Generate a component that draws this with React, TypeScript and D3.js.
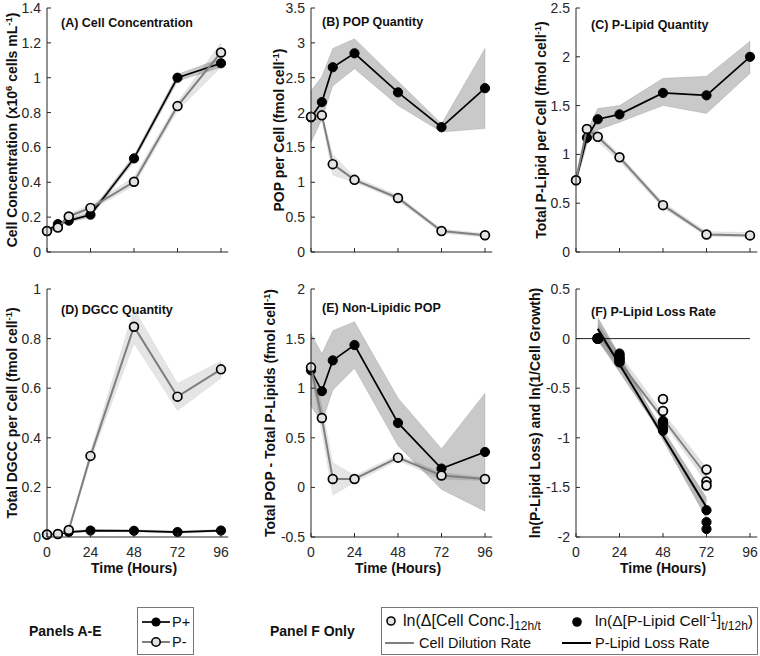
import React from 'react';
import * as d3 from 'd3';

const FONT = "'Liberation Sans', Arial, Helvetica, sans-serif";
const AXIS = '#262626';

const TIMES = [0, 6, 12, 24, 48, 72, 96];
const X_TICKS = [0, 24, 48, 72, 96];

// (A) Cell Concentration
const A_YTICKS = [0, 0.2, 0.4, 0.6, 0.8, 1, 1.2, 1.4];
const A_PP = [0.12, 0.16, 0.18, 0.214, 0.537, 1.0, 1.083];
const A_PP_LO = [0.11, 0.15, 0.17, 0.2, 0.52, 0.98, 1.06];
const A_PP_HI = [0.13, 0.17, 0.19, 0.23, 0.555, 1.02, 1.11];
const A_PM = [0.12, 0.14, 0.204, 0.253, 0.403, 0.837, 1.145];
const A_PM_LO = [0.11, 0.13, 0.19, 0.24, 0.38, 0.81, 1.06];
const A_PM_HI = [0.13, 0.15, 0.22, 0.27, 0.43, 0.86, 1.2];

// (B) POP Quantity
const B_YTICKS = [0, 0.5, 1, 1.5, 2, 2.5, 3, 3.5];
const B_PP = [1.93, 2.15, 2.65, 2.85, 2.29, 1.79, 2.35];
const B_PP_LO = [1.57, 1.9, 2.38, 2.63, 2.1, 1.72, 1.77];
const B_PP_HI = [2.31, 2.52, 2.92, 3.06, 2.45, 1.84, 2.92];
const B_PM = [1.94, 1.96, 1.26, 1.035, 0.775, 0.3, 0.24];
const B_PM_LO = [1.9, 1.9, 1.1, 1.0, 0.74, 0.27, 0.21];
const B_PM_HI = [1.98, 2.0, 1.4, 1.08, 0.81, 0.33, 0.27];

// (C) P-Lipid Quantity
const C_YTICKS = [0, 0.5, 1, 1.5, 2, 2.5];
const C_PP = [0.735, 1.17, 1.36, 1.41, 1.63, 1.605, 2.0];
const C_PP_LO = [0.7, 1.1, 1.25, 1.33, 1.5, 1.42, 1.83];
const C_PP_HI = [0.77, 1.24, 1.47, 1.5, 1.78, 1.8, 2.16];
const C_PM = [0.735, 1.26, 1.18, 0.97, 0.48, 0.18, 0.17];
const C_PM_LO = [0.7, 1.2, 1.13, 0.93, 0.45, 0.16, 0.15];
const C_PM_HI = [0.77, 1.3, 1.22, 1.0, 0.51, 0.21, 0.2];

// (D) DGCC Quantity
const D_YTICKS = [0, 0.2, 0.4, 0.6, 0.8, 1];
const D_PP = [0.01, 0.012, 0.02, 0.026, 0.025, 0.02, 0.026];
const D_PP_LO = [0.007, 0.009, 0.016, 0.022, 0.021, 0.016, 0.022];
const D_PP_HI = [0.013, 0.015, 0.024, 0.03, 0.029, 0.024, 0.03];
const D_PM = [0.01, 0.012, 0.028, 0.327, 0.848, 0.566, 0.676];
const D_PM_LO = [0.008, 0.01, 0.02, 0.31, 0.78, 0.51, 0.64];
const D_PM_HI = [0.012, 0.014, 0.035, 0.345, 0.92, 0.62, 0.71];

// (E) Non-Lipidic POP
const E_YTICKS = [-0.5, 0, 0.5, 1, 1.5, 2];
const E_PP = [1.18, 0.97, 1.28, 1.435, 0.65, 0.19, 0.357];
const E_PP_LO = [0.82, 0.65, 0.98, 1.2, 0.42, -0.02, -0.24];
const E_PP_HI = [1.55, 1.35, 1.58, 1.67, 0.9, 0.39, 0.95];
const E_PM = [1.21, 0.7, 0.085, 0.085, 0.3, 0.12, 0.085];
const E_PM_LO = [1.15, 0.55, -0.08, 0.05, 0.27, 0.08, 0.07];
const E_PM_HI = [1.27, 0.82, 0.25, 0.12, 0.33, 0.15, 0.1];

// (F) P-Lipid Loss Rate
const F_YTICKS = [-2, -1.5, -1, -0.5, 0, 0.5];
const F_T = [12, 24, 48, 72];
const F_OPEN = [[0, 0, 0], [-0.17, -0.2, -0.23], [-0.61, -0.73, -0.85], [-1.32, -1.44, -1.48]];
const F_FILLED = [[0, 0, 0], [-0.15, -0.2, -0.24], [-0.83, -0.9, -0.93], [-1.73, -1.85, -1.92]];
const F_LINE_T = [12, 72];
const F_DIL = [0.05, -1.38];
const F_LOSS = [0.1, -1.7];
const F_BAND_T = [12, 42, 72];
const F_DIL_LO = [-0.03, -0.69, -1.46];
const F_DIL_HI = [0.15, -0.6, -1.3];
const F_LOSS_LO = [-0.02, -0.83, -1.82];
const F_LOSS_HI = [0.22, -0.74, -1.6];

type Seg = { t: string; sup?: boolean; sub?: boolean };

const fmt = (v: number) => String(Math.round(v * 10) / 10);

const ROW_TOP = [8, 289];
const ROW_BOT = [252, 537];
const COL_X = [47, 311, 576];
const X_DOMAIN: [number, number] = [0, 100];
const X_RANGE_W = 181.25;

function RichText({ segs, small = 9.5, shift = 5 }: { segs: Seg[]; small?: number; shift?: number }) {
  let cur = 0;
  const out: React.ReactNode[] = [];
  segs.forEach((s, i) => {
    const target = s.sup ? -shift : s.sub ? shift - 1 : 0;
    const dy = target - cur;
    cur = target;
    out.push(
      <tspan key={i} dy={dy} fontSize={s.sup || s.sub ? small : undefined}>
        {s.t}
      </tspan>
    );
  });
  return <>{out}</>;
}

type PanelProps = {
  col: number;
  row: number;
  yDomain: [number, number];
  yTicks: number[];
  title: string;
  titleDx: number;
  titleY: number;
  ylabel: Seg[];
  ylabelOff: number;
  children: (x: d3.ScaleLinear<number, number>, y: d3.ScaleLinear<number, number>) => React.ReactNode;
};

function Panel({ col, row, yDomain, yTicks, title, titleDx, titleY, ylabel, ylabelOff, children }: PanelProps) {
  const x0 = COL_X[col];
  const top = ROW_TOP[row];
  const bot = ROW_BOT[row];
  const x = d3.scaleLinear().domain(X_DOMAIN).range([x0, x0 + X_RANGE_W]);
  const y = d3.scaleLinear().domain(yDomain).range([bot, top]);
  const tick = 4;
  const showX = row === 1;
  return (
    <g>
      {children(x, y)}
      <line x1={x0} x2={x0} y1={top} y2={bot} stroke={AXIS} strokeWidth={1} />
      <line x1={x0} x2={x0 + X_RANGE_W} y1={bot} y2={bot} stroke={AXIS} strokeWidth={1} />
      {X_TICKS.map((t) => (
        <g key={'xt' + t}>
          <line x1={x(t)} x2={x(t)} y1={bot} y2={bot - tick} stroke={AXIS} strokeWidth={1} />
          {showX && (
            <text x={x(t)} y={bot + 20} textAnchor="middle" fontSize={14} fill={AXIS} fontFamily={FONT}>
              {t}
            </text>
          )}
        </g>
      ))}
      {yTicks.map((v) => (
        <g key={'yt' + v}>
          <line x1={x0} x2={x0 + tick} y1={y(v)} y2={y(v)} stroke={AXIS} strokeWidth={1} />
          <text x={x0 - 6} y={y(v) + 5} textAnchor="end" fontSize={14} fill={AXIS} fontFamily={FONT}>
            {fmt(v)}
          </text>
        </g>
      ))}
      {showX && (
        <text x={x(48)} y={bot + 36} textAnchor="middle" fontSize={14} fontWeight="bold" fill="#111" fontFamily={FONT}>
          Time (Hours)
        </text>
      )}
      <text
        transform={`translate(${x0 - ylabelOff},${(top + bot) / 2}) rotate(-90)`}
        textAnchor="middle"
        fontSize={14}
        fontWeight="bold"
        fill="#111"
        fontFamily={FONT}
      >
        <RichText segs={ylabel} />
      </text>
      <text x={x0 + titleDx} y={titleY} fontSize={12.5} fontWeight="bold" fill="#111" fontFamily={FONT}>
        {title}
      </text>
    </g>
  );
}

const BAND_PP = 'rgba(0,0,0,0.21)';
const BAND_PM = 'rgba(0,0,0,0.10)';
const LINE_PM = '#7f7f7f';
const MARK_PM = '#e3e3e3';

function Series(
  x: d3.ScaleLinear<number, number>,
  y: d3.ScaleLinear<number, number>,
  pp: number[], ppLo: number[], ppHi: number[],
  pm: number[], pmLo: number[], pmHi: number[]
) {
  const area = (lo: number[], hi: number[]) =>
    d3
      .area<number>()
      .x((_, i) => x(TIMES[i]))
      .y0((_, i) => y(lo[i]))
      .y1((_, i) => y(hi[i]))(TIMES) || '';
  const line = (vals: number[]) =>
    d3
      .line<number>()
      .x((_, i) => x(TIMES[i]))
      .y((v) => y(v))(vals) || '';
  return (
    <g>
      <path d={area(ppLo, ppHi)} fill={BAND_PP} stroke="rgba(0,0,0,0.14)" strokeWidth={0.8} />
      <path d={area(pmLo, pmHi)} fill={BAND_PM} stroke="rgba(0,0,0,0.06)" strokeWidth={0.8} />
      <path d={line(pp)} fill="none" stroke="#000" strokeWidth={1.7} />
      {pp.map((v, i) => (
        <circle key={'pp' + i} cx={x(TIMES[i])} cy={y(v)} r={4.6} fill="#000" stroke="#000" strokeWidth={1} />
      ))}
      <path d={line(pm)} fill="none" stroke={LINE_PM} strokeWidth={2} />
      {pm.map((v, i) => (
        <circle key={'pm' + i} cx={x(TIMES[i])} cy={y(v)} r={4.4} fill={MARK_PM} stroke="#000" strokeWidth={1.7} />
      ))}
    </g>
  );
}

function PanelF(x: d3.ScaleLinear<number, number>, y: d3.ScaleLinear<number, number>) {
  const band = (lo: number[], hi: number[]) =>
    d3
      .area<number>()
      .x((t) => x(t))
      .y0((_, i) => y(lo[i]))
      .y1((_, i) => y(hi[i]))(F_BAND_T) || '';
  const line = (vals: number[]) =>
    d3
      .line<number>()
      .x((_, i) => x(F_LINE_T[i]))
      .y((v) => y(v))(vals) || '';
  return (
    <g>
      <line x1={x(0)} x2={x(96)} y1={y(0)} y2={y(0)} stroke={AXIS} strokeWidth={1} />
      <path d={band(F_DIL_LO, F_DIL_HI)} fill="rgba(0,0,0,0.12)" />
      <path d={band(F_LOSS_LO, F_LOSS_HI)} fill="rgba(0,0,0,0.28)" />
      <path d={line(F_DIL)} fill="none" stroke={LINE_PM} strokeWidth={1.8} />
      <path d={line(F_LOSS)} fill="none" stroke="#000" strokeWidth={2} />
      {F_OPEN.map((vals, i) =>
        vals.map((v, j) => (
          <circle key={`o${i}-${j}`} cx={x(F_T[i])} cy={y(v)} r={4.4} fill="#f0f0f0" stroke="#000" strokeWidth={1.8} />
        ))
      )}
      {F_FILLED.map((vals, i) =>
        vals.map((v, j) => (
          <circle key={`f${i}-${j}`} cx={x(F_T[i])} cy={y(v)} r={4.6} fill="#000" stroke="#000" strokeWidth={1} />
        ))
      )}
    </g>
  );
}

const LEG_TEXT = 14.5;

export default function App() {
  const cellLabel: Seg[] = [{ t: 'Cell Concentration (x10' }, { t: '6', sup: true }, { t: ' cells mL' }, { t: '-1', sup: true }, { t: ')' }];
  const fmol = (pre: string): Seg[] => [{ t: pre + ' (fmol cell' }, { t: '-1', sup: true }, { t: ')' }];
  return (
    <svg width={760} height={656} style={{ position: 'absolute', left: 0, top: 0, background: '#fff' }}>
      <rect x={0} y={0} width={760} height={656} fill="#fff" />
      <Panel col={0} row={0} yDomain={[0, 1.4]} yTicks={A_YTICKS} title="(A) Cell Concentration" titleDx={14} titleY={27} ylabel={cellLabel} ylabelOff={30}>
        {(x, y) => Series(x, y, A_PP, A_PP_LO, A_PP_HI, A_PM, A_PM_LO, A_PM_HI)}
      </Panel>
      <Panel col={1} row={0} yDomain={[0, 3.5]} yTicks={B_YTICKS} title="(B) POP Quantity" titleDx={11} titleY={26} ylabel={fmol('POP per Cell')} ylabelOff={27}>
        {(x, y) => Series(x, y, B_PP, B_PP_LO, B_PP_HI, B_PM, B_PM_LO, B_PM_HI)}
      </Panel>
      <Panel col={2} row={0} yDomain={[0, 2.5]} yTicks={C_YTICKS} title="(C) P-Lipid Quantity" titleDx={15} titleY={29} ylabel={fmol('Total P-Lipid per Cell')} ylabelOff={30}>
        {(x, y) => Series(x, y, C_PP, C_PP_LO, C_PP_HI, C_PM, C_PM_LO, C_PM_HI)}
      </Panel>
      <Panel col={0} row={1} yDomain={[0, 1]} yTicks={D_YTICKS} title="(D) DGCC Quantity" titleDx={14} titleY={314} ylabel={fmol('Total DGCC per Cell')} ylabelOff={30}>
        {(x, y) => Series(x, y, D_PP, D_PP_LO, D_PP_HI, D_PM, D_PM_LO, D_PM_HI)}
      </Panel>
      <Panel col={1} row={1} yDomain={[-0.5, 2]} yTicks={E_YTICKS} title="(E) Non-Lipidic POP" titleDx={11} titleY={312} ylabel={fmol('Total POP - Total P-Lipids')} ylabelOff={36}>
        {(x, y) => Series(x, y, E_PP, E_PP_LO, E_PP_HI, E_PM, E_PM_LO, E_PM_HI)}
      </Panel>
      <Panel col={2} row={1} yDomain={[-2, 0.5]} yTicks={F_YTICKS} title="(F) P-Lipid Loss Rate" titleDx={15} titleY={316} ylabel={[{ t: 'ln(P-Lipid Loss) and ln(1/Cell Growth)' }]} ylabelOff={36}>
        {(x, y) => PanelF(x, y)}
      </Panel>

      {/* Legend: Panels A-E */}
      <text x={29} y={636} fontSize={14} fontWeight="bold" fill="#111" fontFamily={FONT}>Panels A-E</text>
      <rect x={137.5} y={607.5} width={56} height={47} fill="#fff" stroke="#777" strokeWidth={1} />
      <line x1={142} x2={170} y1={622} y2={622} stroke="#000" strokeWidth={1.7} />
      <circle cx={156} cy={622} r={4.6} fill="#000" />
      <text x={172} y={627} fontSize={LEG_TEXT} fill="#111" fontFamily={FONT}>P+</text>
      <line x1={142} x2={170} y1={642} y2={642} stroke={LINE_PM} strokeWidth={2} />
      <circle cx={156} cy={642} r={4.2} fill={MARK_PM} stroke="#000" strokeWidth={1.6} />
      <text x={172} y={647} fontSize={LEG_TEXT} fill="#111" fontFamily={FONT}>P-</text>

      {/* Legend: Panel F */}
      <text x={270} y={636} fontSize={14} fontWeight="bold" fill="#111" fontFamily={FONT}>Panel F Only</text>
      <rect x={381.5} y={607.5} width={376} height={47} fill="#fff" stroke="#777" strokeWidth={1} />
      <circle cx={391} cy={621} r={4} fill="#e3e3e3" stroke="#000" strokeWidth={1.6} />
      <text x={403} y={626} fontSize={16} fill="#111" fontFamily={FONT}>
        <RichText segs={[{ t: 'ln(Δ[Cell Conc.]' }, { t: '12h/t', sub: true }]} small={12} />
      </text>
      <circle cx={577} cy={622} r={4.8} fill="#000" />
      <text x={595} y={626} fontSize={15.5} fill="#111" fontFamily={FONT}>
        <RichText segs={[{ t: 'ln(Δ[P-Lipid Cell' }, { t: '-1', sup: true }, { t: ']' }, { t: 't/12h', sub: true }, { t: ')' }]} small={12} />
      </text>
      <line x1={385} x2={414} y1={643} y2={643} stroke={LINE_PM} strokeWidth={2} />
      <text x={419} y={648} fontSize={LEG_TEXT} fill="#111" fontFamily={FONT}>Cell Dilution Rate</text>
      <line x1={562} x2={591} y1={643} y2={643} stroke="#000" strokeWidth={2} />
      <text x={595} y={648} fontSize={LEG_TEXT} fill="#111" fontFamily={FONT}>P-Lipid Loss Rate</text>
    </svg>
  );
}
